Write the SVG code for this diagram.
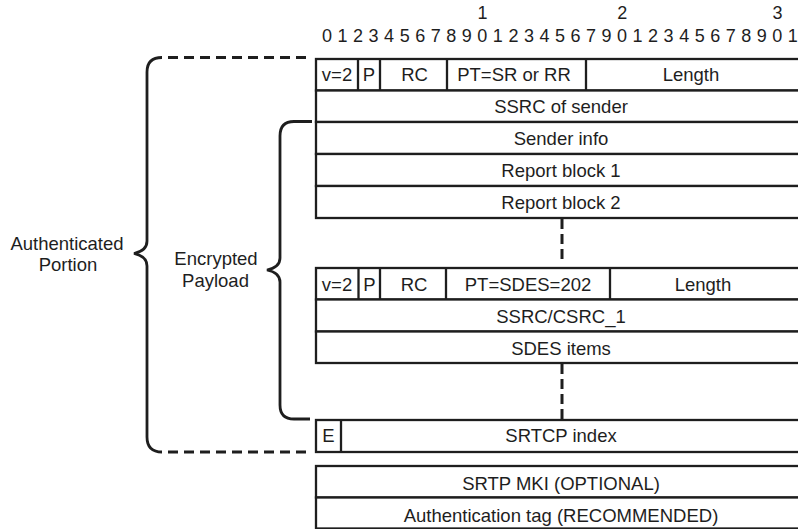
<svg xmlns="http://www.w3.org/2000/svg" width="798" height="529" viewBox="0 0 798 529">
<style>
  text { font-family: "Liberation Sans", Arial, Helvetica, sans-serif; fill: #1e1e1e; }
  .lbl { font-size: 18.5px; text-anchor: middle; }
  .bit { font-size: 18px; text-anchor: middle; }
  .cell { fill: #ffffff; stroke: #1e1e1e; stroke-width: 2.3; }
  .div { stroke: #1e1e1e; stroke-width: 2.3; }
  .dash { fill: none; stroke: #1e1e1e; stroke-width: 3; stroke-dasharray: 10 5; }
  .hdash { fill: none; stroke: #1e1e1e; stroke-width: 3; stroke-dasharray: 10 6; }
  .brace { fill: none; stroke: #1e1e1e; stroke-width: 2.8; stroke-linecap: butt; }
</style>
<rect width="798" height="529" fill="#ffffff"/>

<g id="bit-ruler">
  <text class="bit" y="19"><tspan x="482.5">1</tspan><tspan x="622.3">2</tspan><tspan x="777.6">3</tspan></text>
  <text class="bit" y="41.5" x="327 342.5 358.1 373.6 389.1 404.7 420.2 435.7 451.2 466.8 482.3 497.8 513.4 528.9 544.4 559.9 575.5 591 606.5 622.1 637.6 653.1 668.6 684.2 699.7 715.2 730.8 746.3 761.8 777.3 792.8">0123456789012345679012345678901</text>
</g>

<g id="sr-header">
  <rect class="cell" x="316" y="59" width="490" height="31.5"/>
  <line class="div" x1="358" y1="59" x2="358" y2="90.5"/>
  <line class="div" x1="380" y1="59" x2="380" y2="90.5"/>
  <line class="div" x1="447" y1="59" x2="447" y2="90.5"/>
  <line class="div" x1="586" y1="59" x2="586" y2="90.5"/>
  <text class="lbl" x="337" y="81">v=2</text>
  <text class="lbl" x="369" y="81">P</text>
  <text class="lbl" x="414.5" y="81">RC</text>
  <text class="lbl" x="514" y="81">PT=SR or RR</text>
  <text class="lbl" x="691" y="81">Length</text>
</g>
<g id="ssrc-sender">
  <rect class="cell" x="316" y="90.5" width="490" height="31.5"/>
  <text class="lbl" x="561" y="113">SSRC of sender</text>
</g>
<g id="sender-info">
  <rect class="cell" x="316" y="122" width="490" height="32"/>
  <text class="lbl" x="561" y="144.5">Sender info</text>
</g>
<g id="report-block-1">
  <rect class="cell" x="316" y="154" width="490" height="32"/>
  <text class="lbl" x="561" y="176.5">Report block 1</text>
</g>
<g id="report-block-2">
  <rect class="cell" x="316" y="186" width="490" height="32"/>
  <text class="lbl" x="561" y="208.5">Report block 2</text>
</g>

<g id="sdes-header">
  <rect class="cell" x="316" y="268" width="490" height="31.5"/>
  <line class="div" x1="358.5" y1="268" x2="358.5" y2="299.5"/>
  <line class="div" x1="380" y1="268" x2="380" y2="299.5"/>
  <line class="div" x1="446" y1="268" x2="446" y2="299.5"/>
  <line class="div" x1="610" y1="268" x2="610" y2="299.5"/>
  <text class="lbl" x="337" y="290.5">v=2</text>
  <text class="lbl" x="369.5" y="290.5">P</text>
  <text class="lbl" x="414" y="290.5">RC</text>
  <text class="lbl" x="528" y="290.5">PT=SDES=202</text>
  <text class="lbl" x="703" y="290.5">Length</text>
</g>
<g id="ssrc-csrc-1">
  <rect class="cell" x="316" y="299.5" width="490" height="32"/>
  <text class="lbl" x="561" y="323">SSRC/CSRC_1</text>
</g>
<g id="sdes-items">
  <rect class="cell" x="316" y="331.5" width="490" height="31.5"/>
  <text class="lbl" x="561" y="354.5">SDES items</text>
</g>

<g id="srtcp-index">
  <rect class="cell" x="316" y="420" width="490" height="32"/>
  <line class="div" x1="341" y1="420" x2="341" y2="452"/>
  <text class="lbl" x="328.5" y="442">E</text>
  <text class="lbl" x="561" y="442">SRTCP index</text>
</g>

<g id="srtp-mki">
  <rect class="cell" x="316" y="466" width="490" height="31.5"/>
  <text class="lbl" x="561" y="490">SRTP MKI (OPTIONAL)</text>
</g>
<g id="auth-tag">
  <rect class="cell" x="316" y="497.5" width="490" height="31"/>
  <text class="lbl" x="561" y="521.5">Authentication tag (RECOMMENDED)</text>
</g>

<g id="connectors">
  <line class="dash" x1="562" y1="219" x2="562" y2="262"/>
  <line class="dash" x1="562" y1="364" x2="562" y2="420"/>
</g>

<g id="authenticated-portion">
  <path class="brace" d="M 162 57.5 Q 147 57.5 147 72 V 241 C 147 248 141 252 134 253.5 C 141 255 147 259 147 266 V 437 Q 147 452 162 452"/>
  <path class="hdash" d="M 168 57.5 H 309"/>
  <path class="hdash" d="M 168 452 H 309"/>
  <text class="lbl" x="67" y="250">Authenticated</text>
  <text class="lbl" x="68" y="270.5">Portion</text>
</g>

<g id="encrypted-payload">
  <path class="brace" d="M 312 121.5 H 294 Q 280 121.5 280 136 V 258 C 280 265 274 268.5 267 270 C 274 271.5 280 275 280 282 V 405 Q 280 419 294 419 H 310"/>
  <text class="lbl" x="216" y="265">Encrypted</text>
  <text class="lbl" x="215.5" y="287">Payload</text>
</g>
</svg>
